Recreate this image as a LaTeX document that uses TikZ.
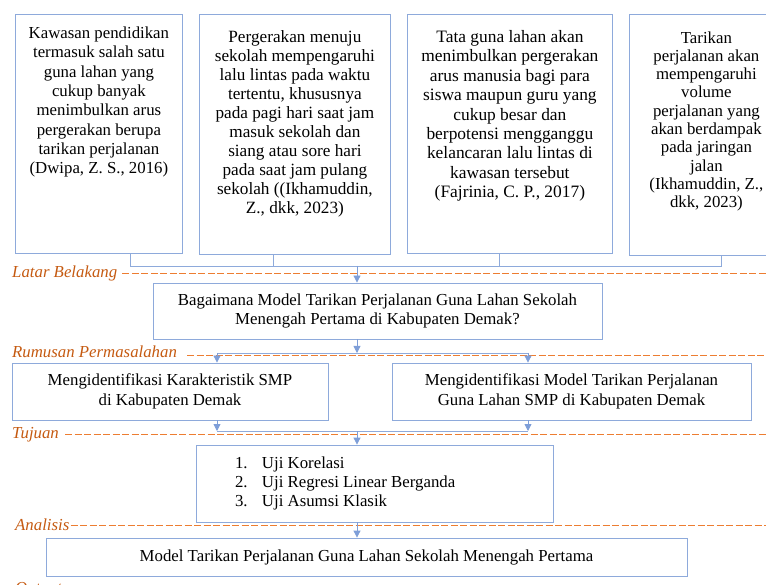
\documentclass[tikz,border=0pt]{standalone}
\usepackage{fontspec}
\setmainfont{Liberation Serif}
\usetikzlibrary{arrows.meta}
\definecolor{boxblue}{HTML}{8EAADB}
\definecolor{arrblue}{HTML}{7E9ED8}
\definecolor{dashorange}{HTML}{ED7D31}
\definecolor{labelorange}{HTML}{C55A11}
\tikzset{
  topbox/.style={draw=boxblue, line width=0.8pt, inner sep=0pt, anchor=north west},
  midbox/.style={draw=boxblue, line width=0.8pt, inner sep=0pt, align=center,
    font=\fontsize{16.8}{19.3}\selectfont},
  conn/.style={draw=boxblue, line width=0.8pt},
  arr/.style={draw=arrblue, line width=0.8pt, -{Triangle[width=7pt,length=7pt]}},
  dashline/.style={draw=dashorange, line width=0.9pt, dash pattern=on 7pt off 2.5pt},
  seclabel/.style={text=labelorange, anchor=base west, inner sep=0pt,
    font=\fontsize{16.8}{19}\selectfont\itshape}
}
\begin{document}
\begin{tikzpicture}[x=1pt,y=-1pt]
\useasboundingbox (0,0) rectangle (766,585);
\clip (0,0) rectangle (766,585);

% top boxes
\node[topbox] (b1) at (15,14) {\parbox[t][239pt][t]{167pt}{\centering\fontsize{16.8}{19.3}\selectfont\vspace*{12.5pt}
Kawasan pendidikan\\ termasuk salah satu\\ guna lahan yang\\ cukup banyak\\ menimbulkan arus\\ pergerakan berupa\\ tarikan perjalanan\\ (Dwipa, Z. S., 2016)}};
\node[topbox] (b2) at (199,14) {\parbox[t][240pt][t]{191pt}{\centering\fontsize{17.2}{19}\selectfont\vspace*{16pt}
Pergerakan menuju\\ sekolah mempengaruhi\\ lalu lintas pada waktu\\ tertentu, khususnya\\ pada pagi hari saat jam\\ masuk sekolah dan\\ siang atau sore hari\\ pada saat jam pulang\\ sekolah ((Ikhamuddin,\\ Z., dkk, 2023)}};
\node[topbox] (b3) at (407,14) {\parbox[t][239pt][t]{205pt}{\centering\fontsize{17.4}{19.4}\selectfont\vspace*{16pt}
Tata guna lahan akan\\ menimbulkan pergerakan\\ arus manusia bagi para\\ siswa maupun guru yang\\ cukup besar dan\\ berpotensi mengganggu\\ kelancaran lalu lintas di\\ kawasan tersebut\\ (Fajrinia, C. P., 2017)}};
\node[topbox] (b4) at (629,14) {\parbox[t][241pt][t]{154pt}{\centering\fontsize{16.8}{18.3}\selectfont\vspace*{17pt}
Tarikan\\ perjalanan akan\\ mempengaruhi\\ volume\\ perjalanan yang\\ akan berdampak\\ pada jaringan\\ jalan\\ (Ikhamuddin, Z.,\\ dkk, 2023)}};

% middle boxes
\node[midbox, minimum width=449pt, minimum height=56pt] (q) at (377.5,311)
  {Bagaimana Model Tarikan Perjalanan Guna Lahan Sekolah\\ Menengah Pertama di Kabupaten Demak?};
\node[midbox, minimum width=316pt, minimum height=57pt] (g1) at (170,391.5)
  {Mengidentifikasi Karakteristik SMP\\ di Kabupaten Demak};
\node[midbox, minimum width=359pt, minimum height=57pt] (g2) at (571.5,391.5)
  {Mengidentifikasi Model Tarikan Perjalanan\\ Guna Lahan SMP di Kabupaten Demak};
\node[midbox, minimum width=357pt, minimum height=77pt] (a) at (374.5,483.5)
  {\makebox[357pt][l]{\hspace{39pt}\parbox{300pt}{\fontsize{16.8}{18.6}\selectfont
  \makebox[27pt][l]{1.}Uji Korelasi\\ \makebox[27pt][l]{2.}Uji Regresi Linear Berganda\\ \makebox[27pt][l]{3.}Uji Asumsi Klasik}}};
\node[midbox, minimum width=641pt, minimum height=38pt] (m) at (366.5,557)
  {Model Tarikan Perjalanan Guna Lahan Sekolah Menengah Pertama};

% section labels and dashed lines
\node[seclabel] (l1) at (12,277.5) {Latar Belakang};
\coordinate (l1e) at (766,273);
\draw[dashline] (l1.east |- l1e) ++(5,0) -- (l1e);
\node[seclabel] (l2) at (12,357.5) {Rumusan Permasalahan};
\coordinate (l2e) at (766,355);
\draw[dashline] (l2.east |- l2e) ++(10,0) -- (l2e);
\node[seclabel] (l3) at (12,438) {Tujuan};
\coordinate (l3e) at (766,434);
\draw[dashline] (l3.east |- l3e) ++(6,0) -- (l3e);
\node[seclabel] (l4) at (15,530) {Analisis};
\coordinate (l4e) at (766,525);
\draw[dashline] (l4.east |- l4e) ++(1,0) -- (l4e);
\node[seclabel] (l5) at (15,593) {Output};

% connectors: top
\coordinate (t1) at (130,266);
\coordinate (t2) at (273,266);
\coordinate (t3) at (499,266);
\coordinate (t4) at (721,266);
\coordinate (tm) at (357,266);
\draw[conn] (b1.south -| t1) -- (t1) -- (t4) -- (b4.south -| t4);
\draw[conn] (b2.south -| t2) -- (t2);
\draw[conn] (b3.south -| t3) -- (t3);
\draw[arr] (tm) -- (q.north -| tm);

% rumusan -> tujuan
\coordinate (r0) at (357,353);
\coordinate (rl) at (217,353);
\coordinate (rr) at (528,353);
\draw[arr] (q.south -| r0) -- (r0);
\draw[conn] (rl) -- (rr);
\draw[arr] (rl) -- (g1.north -| rl);
\draw[arr] (rr) -- (g2.north -| rr);

% tujuan -> analisis
\coordinate (ul) at (217,431);
\coordinate (ur) at (528,431);
\coordinate (um) at (357,431);
\draw[arr] (g1.south -| ul) -- (ul);
\draw[arr] (g2.south -| ur) -- (ur);
\draw[conn] (ul) -- (ur);
\draw[arr] (um) -- (a.north -| um);

% analisis -> output
\coordinate (am) at (357,522);
\draw[arr] (a.south -| am) -- (m.north -| am);
\end{tikzpicture}
\end{document}
